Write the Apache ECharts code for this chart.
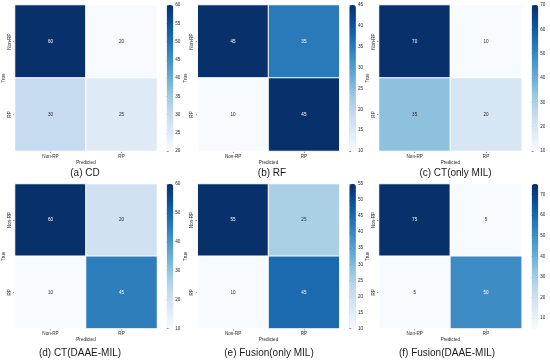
<!DOCTYPE html>
<html><head><meta charset="utf-8">
<script src="https://cdn.jsdelivr.net/npm/echarts@6/dist/echarts.min.js"></script>
<style>html,body{margin:0;padding:0;background:#fff}#c{width:550px;height:360px}</style>
</head><body><div id="c"></div>
<script>
// ---- data ----
const classes = ['Non-RP', 'RP'];
const titles = ['(a) CD', '(b) RF', '(c) CT(only MIL)', '(d) CT(DAAE-MIL)', '(e) Fusion(only MIL)', '(f) Fusion(DAAE-MIL)'];
const cmCD = [[60, 20], [30, 25]];
const cmRF = [[45, 35], [10, 45]];
const cmCTonly = [[70, 10], [35, 20]];
const cmCTdaae = [[60, 20], [10, 45]];
const cmFusionOnly = [[55, 25], [10, 45]];
const cmFusionDaae = [[75, 5], [5, 50]];
const ticksCD = [20, 25, 30, 35, 40, 45, 50, 55, 60];
const ticksRF = [10, 15, 20, 25, 30, 35, 40, 45];
const ticksCTonly = [10, 20, 30, 40, 50, 60, 70];
const ticksCTdaae = [10, 20, 30, 40, 50, 60];
const ticksFusionOnly = [10, 15, 20, 25, 30, 35, 40, 45, 50, 55];
const ticksFusionDaae = [10, 20, 30, 40, 50, 60, 70];

const matrices = [cmCD, cmRF, cmCTonly, cmCTdaae, cmFusionOnly, cmFusionDaae];
const tickSets = [ticksCD, ticksRF, ticksCTonly, ticksCTdaae, ticksFusionOnly, ticksFusionDaae];

// ---- layout ----
const colLeft = [14, 197.7, 379];
const colWidth = [143, 141.6, 142.7];
const cbLeft = [166.7, 349.3, 531.7];
const cbWidth = 6.6;
const rowTop = [5, 184];
const rowHeight = [146, 144.5];
const capX = [85, 272, 455.5, 80, 269, 447];
const capY = [173, 353];

const blues = ['#f7fbff', '#deebf7', '#c6dbef', '#9ecae1', '#6baed6', '#4292c6', '#2171b5', '#08519c', '#08306b'];

function hex2rgb(h) { return [parseInt(h.substr(1, 2), 16), parseInt(h.substr(3, 2), 16), parseInt(h.substr(5, 2), 16)]; }
function colorAt(t) {
  t = Math.max(0, Math.min(1, t));
  const p = t * (blues.length - 1);
  const i = Math.min(blues.length - 2, Math.floor(p));
  const f = p - i;
  const a = hex2rgb(blues[i]), b = hex2rgb(blues[i + 1]);
  return a.map((v, k) => v + (b[k] - v) * f);
}
function lum(rgb) {
  const c = rgb.map(v => { v /= 255; return v <= 0.03928 ? v / 12.92 : Math.pow((v + 0.055) / 1.055, 2.4); });
  return 0.2126 * c[0] + 0.7152 * c[1] + 0.0722 * c[2];
}

const TXT = '#262626';
const FS = 4.6;
const grids = [], xAxes = [], yAxes = [], series = [], visualMaps = [], graphics = [];

matrices.forEach((m, k) => {
  const col = k % 3, row = Math.floor(k / 3);
  const flat = m.flat();
  const vmin = Math.min(...flat), vmax = Math.max(...flat);
  // heatmap grid
  grids.push({ left: colLeft[col], top: rowTop[row], width: colWidth[col], height: rowHeight[row] });
  xAxes.push({
    gridIndex: 2 * k, type: 'category', data: classes, position: 'bottom',
    axisLine: { show: false }, splitLine: { show: false },
    axisTick: { show: true, alignWithLabel: true, length: 2, lineStyle: { color: '#444', width: 0.6 } },
    axisLabel: { fontSize: FS, color: TXT, margin: 3, fontFamily: 'Liberation Sans' },
    name: 'Predicted', nameLocation: 'middle', nameGap: 9,
    nameTextStyle: { fontSize: FS, color: TXT, fontFamily: 'Liberation Sans' }
  });
  yAxes.push({
    gridIndex: 2 * k, type: 'category', data: classes, inverse: true,
    axisLine: { show: false }, splitLine: { show: false },
    axisTick: { show: true, alignWithLabel: true, length: 2, lineStyle: { color: '#444', width: 0.6 } },
    axisLabel: { fontSize: FS, color: TXT, margin: 3, rotate: 90, fontFamily: 'Liberation Sans' },
    name: 'True', nameLocation: 'middle', nameGap: 9,
    nameTextStyle: { fontSize: FS, color: TXT, fontFamily: 'Liberation Sans' }
  });
  // colorbar axis grid
  grids.push({ left: cbLeft[col], top: rowTop[row], width: cbWidth, height: rowHeight[row] });
  xAxes.push({ gridIndex: 2 * k + 1, type: 'value', show: false });
  yAxes.push({
    gridIndex: 2 * k + 1, type: 'value', position: 'right', min: vmin, max: vmax,
    axisLine: { show: false }, splitLine: { show: false },
    axisTick: { show: true, length: 2, customValues: tickSets[k], lineStyle: { color: '#444', width: 0.6 } },
    axisLabel: { fontSize: FS, color: TXT, margin: 2, customValues: tickSets[k], fontFamily: 'Liberation Sans' }
  });
  const data = [];
  m.forEach((r, i) => r.forEach((v, j) => {
    const c = colorAt((v - vmin) / (vmax - vmin));
    data.push({ value: [j, i, v], label: { color: lum(c) > 0.408 ? TXT : '#ffffff' } });
  }));
  series.push({
    type: 'heatmap', xAxisIndex: 2 * k, yAxisIndex: 2 * k, data: data,
    itemStyle: { borderColor: '#ffffff', borderWidth: 1 },
    label: { show: true, fontSize: FS, fontFamily: 'Liberation Sans' },
    emphasis: { disabled: true }
  });
  visualMaps.push({
    type: 'continuous', seriesIndex: k, min: vmin, max: vmax, calculable: false,
    hoverLink: false, padding: 0, itemWidth: cbWidth, itemHeight: rowHeight[row],
    left: cbLeft[col], top: rowTop[row], text: null, showLabel: false,
    inRange: { color: blues }
  });
  graphics.push({
    type: 'text', x: capX[k], y: capY[row],
    style: { text: titles[k], fontSize: 10, fontFamily: 'Liberation Sans', fill: '#1a1a1a', align: 'center', verticalAlign: 'middle' }
  });
});

const chart = echarts.init(document.getElementById('c'), null, { renderer: 'canvas' });
chart.setOption({
  backgroundColor: '#ffffff',
  animation: false,
  grid: grids, xAxis: xAxes, yAxis: yAxes, series: series,
  visualMap: visualMaps, graphic: graphics
});
</script></body></html>
